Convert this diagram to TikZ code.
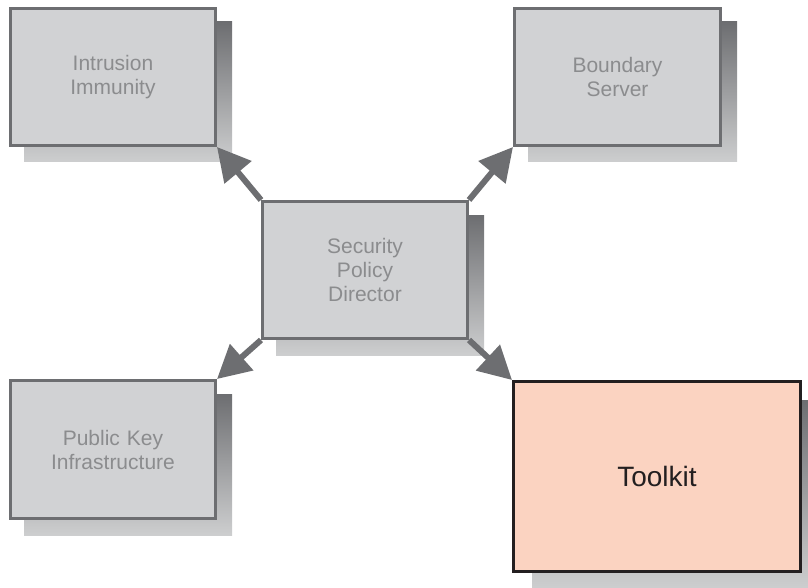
\documentclass[tikz,border=0pt]{standalone}
\usepackage{fontspec}
\setmainfont{Liberation Sans}
\usetikzlibrary{arrows.meta}
\definecolor{boxfill}{HTML}{D1D2D4}
\definecolor{boxline}{HTML}{6D6E71}
\definecolor{labelgray}{HTML}{8B8C8E}
\definecolor{peach}{HTML}{FBD3C1}
\definecolor{inkdark}{HTML}{231F20}
\definecolor{shadowlight}{HTML}{CDCECF}
\tikzset{
  x=1pt, y=-1pt,
  graybox/.style={draw=boxline, fill=boxfill, line width=3pt, inner sep=0pt,
    minimum width=205pt, minimum height=137pt, text width=190pt, align=center,
    text=labelgray, font=\fontsize{21}{24}\selectfont},
  toolbox/.style={draw=inkdark, fill=peach, line width=3pt, inner sep=0pt,
    minimum width=287pt, minimum height=190pt, text width=260pt, align=center,
    text=inkdark, font=\fontsize{28}{32}\selectfont},
  boxshadow/.style={top color=boxline, bottom color=shadowlight, draw=none},
  linkarrow/.style={draw=boxline, line width=6pt,
    -{Triangle[length=33pt,width=34pt]}},
}
\begin{document}
\begin{tikzpicture}
\useasboundingbox (0,0) rectangle (808,588);
% boxes (placed first, redrawn on top later)
\node[graybox] (intr) at (113,77) {Intrusion\\Immunity};
\node[graybox, minimum width=206pt] (bound) at (617.5,77) {Boundary\\Server};
\node[graybox] (spd) at (365,270) {Security\\Policy\\Director};
\node[graybox, minimum height=138pt] (pki) at (113,449.5) {Public Key\\Infrastructure};
\node[toolbox] (tool) at (657,476.5) {Toolkit};
% drop shadows
\foreach \b in {intr,bound,spd,pki}
  \shade[boxshadow] ([shift={(15,15)}]\b.north west) rectangle ([shift={(15,15)}]\b.south east);
\shade[boxshadow] ([shift={(20,20)}]tool.north west) rectangle ([shift={(20,15)}]tool.south east);
% connectors
\draw[linkarrow] (spd.north west) -- (intr.south east);
\draw[linkarrow] (spd.north east) -- (bound.south west);
\draw[linkarrow] (spd.south west) -- (pki.north east);
\draw[linkarrow] (spd.south east) -- (tool.north west);
% boxes on top
\node[graybox] at (intr) {Intrusion\\Immunity};
\node[graybox, minimum width=206pt] at (bound) {Boundary\\Server};
\node[graybox] at (spd) {Security\\Policy\\Director};
\node[graybox, minimum height=138pt] at (pki) {Public Key\\Infrastructure};
\node[toolbox] at (tool) {Toolkit};
\end{tikzpicture}
\end{document}
